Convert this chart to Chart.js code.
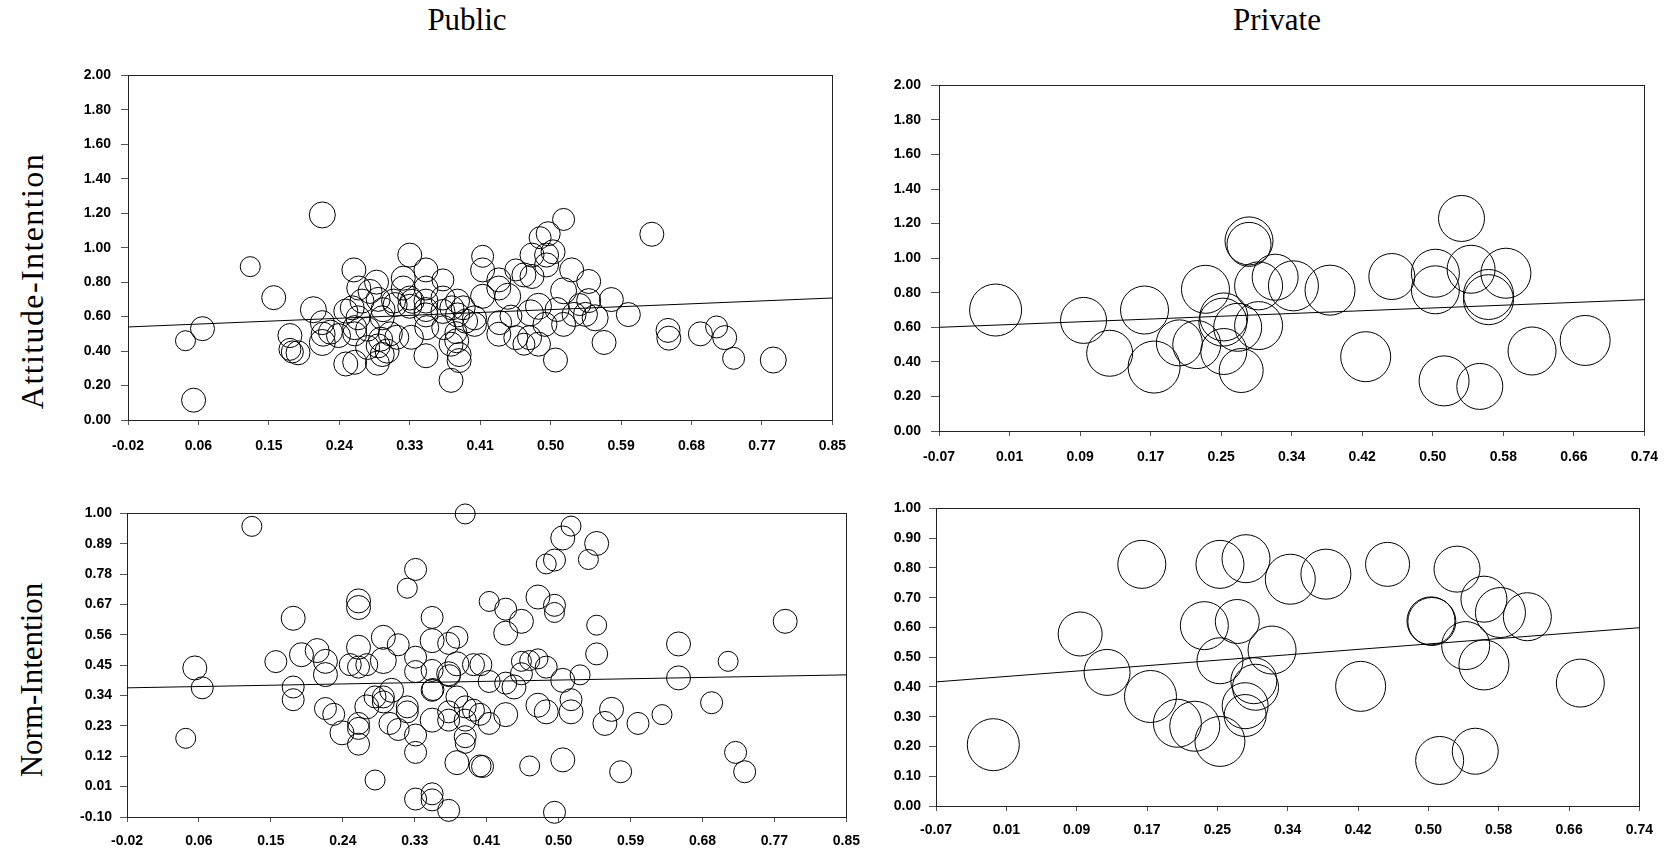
<!DOCTYPE html>
<html>
<head>
<meta charset="utf-8">
<script src="https://cdn.jsdelivr.net/npm/chart.js@4.4.1/dist/chart.umd.min.js"></script>
<style>
  body { margin: 0; background: #fff; width: 1674px; height: 853px; overflow: hidden; position: relative; }
  canvas { position: absolute; }
  .title { position: absolute; font-family: "Liberation Serif", "Times New Roman", serif; font-size: 31px; color: #000; white-space: nowrap; transform: translate(-50%, -50%); }
  .ytitle { position: absolute; font-family: "Liberation Serif", "Times New Roman", serif; font-size: 31px; color: #000; white-space: nowrap; transform: translate(-50%, -50%) rotate(-90deg); }
</style>
</head>
<body>
<div class="title" style="left:467px; top:20px;">Public</div>
<div class="title" style="left:1277px; top:20px;">Private</div>
<div class="ytitle" style="left:32px; top:281px; font-size:32px; letter-spacing:1.4px;">Attitude-Intention</div>
<div class="ytitle" style="left:32px; top:680px;">Norm-Intention</div>
<canvas id="tl"></canvas>
<canvas id="tr"></canvas>
<canvas id="bl"></canvas>
<canvas id="br"></canvas>
<script>
// tick labels
const pubXTicks = ['-0.02','0.06','0.15','0.24','0.33','0.41','0.50','0.59','0.68','0.77','0.85'];
const privXTicks = ['-0.07','0.01','0.09','0.17','0.25','0.34','0.42','0.50','0.58','0.66','0.74'];
const attYTicks = ['0.00','0.20','0.40','0.60','0.80','1.00','1.20','1.40','1.60','1.80','2.00'];
const pubNormYTicks = ['-0.10','0.01','0.12','0.23','0.34','0.45','0.56','0.67','0.78','0.89','1.00'];
const privNormYTicks = ['0.00','0.10','0.20','0.30','0.40','0.50','0.60','0.70','0.80','0.90','1.00'];

// Public, attitude-intention
const tlX = [0.051,0.072,0.061,0.131,0.160,0.220,0.180,0.180,0.183,0.190,
  0.209,0.220,0.220,0.230,0.240,0.249,0.259,0.260,0.265,0.257,
  0.260,0.260,0.269,0.279,0.287,0.288,0.289,0.294,0.300,0.295,
  0.289,0.304,0.308,0.312,0.320,0.320,0.328,0.328,0.328,0.330,
  0.348,0.348,0.348,0.348,0.348,0.348,0.369,0.369,0.369,0.379,
  0.387,0.387,0.379,0.385,0.389,0.389,0.397,0.418,0.418,0.418,
  0.438,0.438,0.449,0.459,0.469,0.479,0.479,0.489,0.499,0.497,
  0.505,0.497,0.528,0.518,0.549,0.549,0.577,0.598,0.568,0.557,
  0.538,0.518,0.508,0.487,0.495,0.487,0.477,0.510,0.469,0.459,
  0.453,0.438,0.408,0.408,0.647,0.648,0.687,0.707,0.717,0.728,
  0.777,0.518,0.627,0.545,0.394,0.380,0.370,0.386,0.331,0.310,
  0.294,0.276,0.292,0.276,0.264,0.249,0.221,0.531,0.439,0.476,0.349];
const tlY = [0.46,0.53,0.115,0.89,0.71,1.19,0.49,0.41,0.395,0.39,
  0.64,0.565,0.45,0.51,0.49,0.325,0.871,0.335,0.766,0.651,
  0.536,0.50,0.69,0.746,0.80,0.33,0.43,0.38,0.40,0.64,
  0.70,0.50,0.69,0.48,0.823,0.766,0.957,0.708,0.66,0.48,
  0.871,0.766,0.69,0.641,0.61,0.373,0.813,0.708,0.63,0.23,
  0.69,0.61,0.44,0.507,0.38,0.345,0.574,0.95,0.871,0.718,
  0.813,0.766,0.718,0.871,0.842,0.833,0.957,1.058,1.081,0.957,
  0.976,0.90,0.871,0.75,0.804,0.693,0.699,0.612,0.45,0.593,
  0.67,0.555,0.348,0.44,0.555,0.66,0.622,0.641,0.44,0.478,
  0.603,0.498,0.555,0.593,0.52,0.475,0.50,0.54,0.478,0.358,
  0.348,1.164,1.078,0.613,0.651,0.651,0.536,0.46,0.689,0.67,
  0.593,0.527,0.469,0.421,0.593,0.632,0.498,0.613,0.565,0.478,0.536];
const tlW = [10,12,12,10,12,13,12,11,11,12,
  13,12,13,12,12,12,12,12,12,12,
  12,12,12,12,12,12,12,12,12,12,
  12,12,12,12,12,12,12,12,12,12,
  12,12,12,12,12,12,11,12,12,12,
  12,12,12,11,12,12,12,11,12,12,
  12,12,13,11,12,12,12,11,12,12,
  12,12,12,13,12,12,12,12,12,13,
  11,12,12,12,12,13,13,12,11,12,
  11,12,12,12,12,12,12,11,12,11,
  13,11,12,12,12,12,12,12,12,12,
  12,12,12,12,12,12,12,12,12,12,12];
const tlFitX = [-0.02, 0.85];
const tlFitY = [0.54, 0.708];

// Private, attitude-intention
const trX = [-0.005,0.096,0.126,0.166,0.177,0.206,0.226,0.236,0.257,0.256,
  0.257,0.277,0.286,0.286,0.273,0.297,0.297,0.316,0.337,0.379,
  0.420,0.450,0.500,0.500,0.510,0.530,0.541,0.551,0.561,0.561,
  0.581,0.611,0.672];
const trY = [0.70,0.64,0.45,0.70,0.37,0.51,0.50,0.82,0.66,0.63,
  0.46,0.35,1.10,1.08,0.60,0.61,0.84,0.89,0.84,0.815,
  0.43,0.894,0.913,0.817,0.29,1.23,0.936,0.258,0.79,0.76,
  0.913,0.463,0.524];
const trW = [26,23,23,24,26,23,24,24,24,24,
  23,22,24,22,24,24,24,23,25,25,
  25,23,24,24,25,23,24,23,25,25,
  25,24,25];
const trFitX = [-0.07, 0.74];
const trFitY = [0.60, 0.76];

// Public, norm-intention
const blX = [0.131,0.051,0.062,0.071,0.160,0.181,0.181,0.181,0.191,0.210,
  0.220,0.220,0.220,0.230,0.240,0.250,0.260,0.260,0.260,0.260,
  0.270,0.260,0.260,0.260,0.270,0.280,0.280,0.290,0.290,0.290,
  0.290,0.300,0.298,0.308,0.308,0.319,0.319,0.319,0.329,0.329,
  0.329,0.329,0.329,0.329,0.349,0.349,0.349,0.349,0.350,0.349,
  0.349,0.349,0.369,0.369,0.369,0.370,0.369,0.369,0.379,0.379,
  0.379,0.379,0.389,0.389,0.389,0.389,0.389,0.399,0.399,0.410,
  0.517,0.507,0.548,0.538,0.497,0.487,0.418,0.438,0.477,0.497,
  0.497,0.457,0.438,0.548,0.548,0.647,0.776,0.707,0.647,0.687,
  0.566,0.558,0.598,0.627,0.716,0.727,0.577,0.507,0.467,0.407,
  0.497,0.528,0.507,0.517,0.517,0.477,0.487,0.487,0.477,0.467,
  0.457,0.457,0.448,0.438,0.438,0.418,0.408,0.418,0.407];
const blY = [0.953,0.185,0.44,0.368,0.463,0.62,0.371,0.325,0.488,0.503,
  0.464,0.416,0.293,0.272,0.205,0.452,0.683,0.659,0.515,0.443,
  0.452,0.239,0.221,0.164,0.299,0.034,0.335,0.551,0.467,0.335,
  0.317,0.359,0.239,0.524,0.217,0.729,0.299,0.281,0.797,0.479,
  0.427,0.197,0.134,-0.035,0.623,0.539,0.431,0.359,0.362,0.251,
  -0.016,-0.038,-0.076,0.529,0.419,0.412,0.281,0.251,0.551,0.455,
  0.335,0.097,0.998,0.299,0.251,0.191,0.167,0.452,0.287,0.083,
  0.954,0.911,0.891,0.833,0.831,0.817,0.681,0.653,0.697,0.667,
  0.641,0.609,0.566,0.595,0.491,0.527,0.609,0.464,0.404,0.314,
  0.29,0.239,0.239,0.271,0.134,0.064,0.064,0.107,0.085,0.085,
  -0.083,0.415,0.395,0.325,0.281,0.305,0.281,0.443,0.473,0.467,
  0.464,0.419,0.371,0.385,0.271,0.391,0.452,0.239,0.272];
const blW = [10,10,12,11,11,12,11,11,12,12,
  12,12,11,11,12,11,12,12,12,11,
  11,11,11,11,12,10,11,12,13,11,
  11,12,11,11,11,10,11,11,11,11,
  11,11,11,11,11,12,11,11,11,12,
  11,11,11,11,12,11,11,11,11,12,
  11,12,10,11,11,11,10,11,11,11,
  10,12,12,10,11,10,10,11,12,11,
  10,12,12,10,11,12,12,10,12,11,
  12,12,11,10,11,11,11,12,10,11,
  11,10,12,11,12,12,12,11,10,10,
  10,11,12,11,12,11,11,11,11];
const blFitX = [-0.02, 0.85];
const blFitY = [0.368, 0.415];

// Private, norm-intention
const brX = [-0.004,0.096,0.127,0.167,0.177,0.208,0.228,0.257,0.239,0.277,
  0.257,0.287,0.257,0.296,0.298,0.286,0.286,0.317,0.338,0.379,
  0.419,0.450,0.500,0.501,0.510,0.530,0.540,0.551,0.561,0.561,
  0.580,0.611,0.672];
const brY = [0.206,0.578,0.449,0.812,0.368,0.278,0.268,0.217,0.606,0.620,
  0.812,0.831,0.488,0.421,0.399,0.337,0.304,0.524,0.762,0.779,
  0.402,0.812,0.622,0.620,0.153,0.796,0.539,0.184,0.695,0.474,
  0.650,0.636,0.413];
const brW = [26,22,23,24,26,24,25,25,24,22,
  24,24,23,23,23,23,21,24,25,25,
  25,22,24,24,24,23,24,23,23,25,
  25,24,24];
const brFitX = [-0.07, 0.74];
const brFitY = [0.417, 0.599];

const tickFont = { family: '"Liberation Sans", Arial, sans-serif', size: 14, weight: 'bold' };
const axisColor = '#555';

const framePlugin = {
    id: 'frame',
    beforeDatasetsDraw(chart) {
        const a = chart.chartArea;
        const c = chart.ctx;
        c.save();
        c.strokeStyle = '#222';
        c.lineWidth = 1;
        c.strokeRect(Math.round(a.left) + 0.5, Math.round(a.top) + 0.5,
            Math.round(a.right - a.left), Math.round(a.bottom - a.top));
        c.restore();
    }
};

function evenTicks(labels) {
    const lo = parseFloat(labels[0]);
    const hi = parseFloat(labels[labels.length - 1]);
    return labels.map((_, i) => ({ value: lo + i * (hi - lo) / (labels.length - 1) }));
}

function makePanel(id, box, xs, ys, ws, fitX, fitY, xLabels, yLabels, xPad, yPad, yTick) {
    const padL = 75, padR = 20, padT = 15, padB = 45;
    const canvas = document.getElementById(id);
    canvas.width = box.w + padL + padR;
    canvas.height = box.h + padT + padB;
    canvas.style.left = (box.x - padL) + 'px';
    canvas.style.top = (box.y - padT) + 'px';

    const bubbles = xs.map((x, i) => ({ x: x, y: ys[i], r: ws[i] }));
    const fit = fitX.map((x, i) => ({ x: x, y: fitY[i] }));

    return new Chart(canvas.getContext('2d'), {
        type: 'bubble',
        data: {
            datasets: [
                { data: bubbles, borderColor: '#000', borderWidth: 1, backgroundColor: 'rgba(0,0,0,0)', clip: false },
                { type: 'line', data: fit, borderColor: '#000', borderWidth: 1, pointRadius: 0, fill: false, clip: false }
            ]
        },
        options: {
            responsive: false,
            animation: false,
            devicePixelRatio: 1,
            layout: { autoPadding: false, padding: { left: 0, right: padR, top: padT, bottom: 0 } },
            plugins: { legend: { display: false }, tooltip: { enabled: false } },
            scales: {
                x: {
                    type: 'linear',
                    min: parseFloat(xLabels[0]),
                    max: parseFloat(xLabels[xLabels.length - 1]),
                    afterBuildTicks: s => { s.ticks = evenTicks(xLabels); },
                    afterFit: s => { s.height = padB; },
                    ticks: { callback: (v, i) => xLabels[i], font: tickFont, color: '#000', padding: xPad, maxRotation: 0, autoSkip: false },
                    grid: { drawOnChartArea: false, drawTicks: true, tickLength: 5, color: axisColor },
                    border: { color: axisColor }
                },
                y: {
                    type: 'linear',
                    min: parseFloat(yLabels[0]),
                    max: parseFloat(yLabels[yLabels.length - 1]),
                    afterBuildTicks: s => { s.ticks = evenTicks(yLabels); },
                    afterFit: s => { s.width = padL; },
                    ticks: { callback: (v, i) => yLabels[i], font: tickFont, color: '#000', padding: yPad, autoSkip: false },
                    grid: { drawOnChartArea: false, drawTicks: true, tickLength: yTick, color: axisColor },
                    border: { color: axisColor }
                }
            }
        },
        plugins: [framePlugin]
    });
}

// chart areas on the page
const layout = {
    tl: { x: 128, y: 72, w: 711, h: 348 },
    tr: { x: 939, y: 82, w: 712, h: 349 },
    bl: { x: 127, y: 512, w: 724, h: 305 },
    br: { x: 936, y: 507, w: 708, h: 299 }
};

makePanel('tl', layout.tl, tlX, tlY, tlW, tlFitX, tlFitY, pubXTicks, attYTicks, 13, 10, 7);
makePanel('tr', layout.tr, trX, trY, trW, trFitX, trFitY, privXTicks, attYTicks, 13, 10, 8);
makePanel('bl', layout.bl, blX, blY, blW, blFitX, blFitY, pubXTicks, pubNormYTicks, 11, 8, 7);
makePanel('br', layout.br, brX, brY, brW, brFitX, brFitY, privXTicks, privNormYTicks, 11, 8, 7);
</script>
</body>
</html>
